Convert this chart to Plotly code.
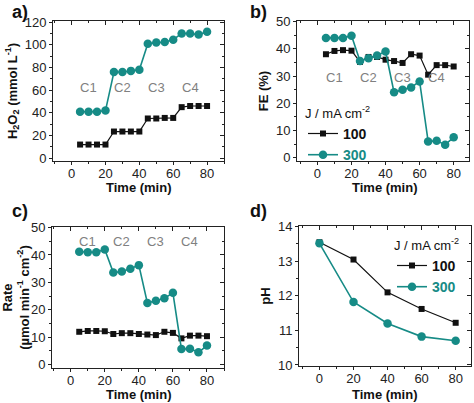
import plotly.graph_objects as go

TEAL = "#168b86"
BLACK = "#111111"
FONT = "Liberation Sans, Arial, sans-serif"

time_ab = [5, 10, 15, 20, 25, 30, 35, 40, 45, 50, 55, 60, 65, 70, 75, 80]
h2o2_100 = [12, 12, 12, 12, 23.5, 23.5, 23.5, 23.5, 35, 35, 35.5, 35.5, 45, 46, 46, 46]
h2o2_300 = [41, 41, 41, 42, 76, 76, 77, 78, 101, 102, 102.5, 104.5, 110, 110, 109, 111.5]
fe_100 = [38, 39.2, 39.5, 39.3, 35.2, 37, 37, 36, 35.5, 34.8, 38, 37.5, 30.5, 34, 34, 33.5]
fe_300 = [44, 44, 44, 44.8, 35.5, 36.5, 37.5, 39, 24, 25, 25.8, 28, 6, 6.2, 4.8, 7.5]
rate_100 = [12, 12.3, 12.3, 12.2, 11.2, 11.5, 11.5, 11.2, 11, 10.8, 12, 11.6, 9.6, 10.6, 10.6, 10.4]
rate_300 = [41.2, 41, 41, 42, 33.6, 34, 35, 36.3, 22.5, 23.3, 24.2, 26.2, 5.7, 5.8, 4.5, 7]
time_d = [0, 20, 40, 60, 80]
ph_100 = [13.55, 13.05, 12.1, 11.62, 11.22]
ph_300 = [13.52, 11.82, 11.2, 10.82, 10.7]
cycle_labels = ["C1", "C2", "C3", "C4"]
cycle_x = [10, 30, 50, 70]
legend_names = ["100", "300"]

fig = go.Figure()

def add_pair(xs, y1, y2, ax, legend=None):
    n = "" if ax == 1 else str(ax)
    show = legend is not None
    fig.add_trace(go.Scatter(
        x=xs, y=y1, xaxis="x" + n, yaxis="y" + n, mode="lines+markers",
        line=dict(color=BLACK, width=1.2),
        marker=dict(symbol="square", size=6, color=BLACK),
        name="<b>" + legend_names[0] + "</b>", showlegend=show, legend=legend or "legend"))
    fig.add_trace(go.Scatter(
        x=xs, y=y2, xaxis="x" + n, yaxis="y" + n, mode="lines+markers",
        line=dict(color=TEAL, width=1.6),
        marker=dict(symbol="circle", size=8.5, color=TEAL),
        name="<b><span style='color:" + TEAL + "'>" + legend_names[1] + "</span></b>",
        showlegend=show, legend=legend or "legend"))

add_pair(time_ab, h2o2_100, h2o2_300, 1)
add_pair(time_ab, fe_100, fe_300, 2, "legend")
add_pair(time_ab, rate_100, rate_300, 3)
add_pair(time_d, ph_100, ph_300, 4, "legend2")

W, H = 474, 403
boxes = {
    1: (53, 224, 21, 161),
    2: (297, 469, 21, 161),
    3: (52, 224, 227, 368),
    4: (299, 471, 226, 366),
}
xranges = {1: [-11, 90], 2: [-12, 89], 3: [-11, 90], 4: [-12, 89]}
yranges = {1: [-2.5, 121], 2: [-1.2, 50.2], 3: [-1.2, 50.2], 4: [9.97, 14.02]}
ydt = {1: 20, 2: 10, 3: 10, 4: 1}
ytitles = {
    1: "<b>H<sub>2</sub>O<sub>2</sub> (mmol L<sup>-1</sup>)</b>",
    2: "<b>FE (%)</b>",
    3: "<b>Rate<br>(µmol min<sup>-1</sup> cm<sup>-2</sup>)</b>",
    4: "<b>pH</b>",
}
xtitle_pos = {1: (139, 188), 2: (385, 188), 3: (139, 394), 4: (385, 394)}

tickfont = dict(family=FONT, size=13, color="#222")
titlefont = dict(family=FONT, size=13, color="#111")
layout = {}
annotations = []
for i in range(1, 5):
    x0, x1, y0, y1 = boxes[i]
    n = "" if i == 1 else str(i)
    xd = [x0 / W, x1 / W]
    yd = [1 - y1 / H, 1 - y0 / H]
    common = dict(showline=True, linecolor="#222", linewidth=1, ticks="outside",
                  tickcolor="#222", showgrid=False, zeroline=False,
                  tickfont=tickfont, automargin=False)
    layout["xaxis" + n] = dict(domain=xd, anchor="y" + n, range=xranges[i], dtick=20,
                               tick0=0, ticklen=3, ticklabelstandoff=-3,
                               minor=dict(dtick=10, ticks="outside", ticklen=2, tickcolor="#222"),
                               **common)
    layout["yaxis" + n] = dict(domain=yd, anchor="x" + n, range=yranges[i], dtick=ydt[i],
                               tick0=0, ticklen=3,
                               minor=dict(dtick=ydt[i] / 2, ticks="outside", ticklen=2, tickcolor="#222"),
                               title=dict(text=ytitles[i], font=titlefont, standoff=4),
                               **common)
    mx = str(4 + i)
    layout["xaxis" + mx] = dict(overlaying="x" + n, anchor="y" + n, side="top", range=xranges[i],
                                dtick=20, tick0=0, showline=True, linecolor="#222", linewidth=1,
                                ticks="inside", ticklen=4, tickcolor="#222", showticklabels=False,
                                showgrid=False, zeroline=False, automargin=False,
                                minor=dict(dtick=10, ticks="inside", ticklen=2, tickcolor="#222"))
    layout["yaxis" + mx] = dict(overlaying="y" + n, anchor="x" + n, side="right", range=yranges[i],
                                dtick=ydt[i], tick0=0, showline=True, linecolor="#222", linewidth=1,
                                ticks="inside", ticklen=4, tickcolor="#222", showticklabels=False,
                                showgrid=False, zeroline=False, automargin=False,
                                minor=dict(dtick=ydt[i] / 2, ticks="inside", ticklen=2, tickcolor="#222"))
    tx, ty = xtitle_pos[i]
    annotations.append(dict(x=tx / W, y=1 - ty / H, xref="paper", yref="paper",
                            text="<b>Time (min)</b>", showarrow=False, xanchor="center",
                            yanchor="middle", font=titlefont))

for i in range(1, 5):
    mx = str(4 + i)
    fig.add_trace(go.Scatter(x=[xranges[i][0]], y=[yranges[i][0]], xaxis="x" + mx, yaxis="y" + mx,
                             mode="markers", marker=dict(opacity=0), showlegend=False, hoverinfo="skip"))

cyc_y = {1: 62, 2: 29.5, 3: 45}
for i, yv in cyc_y.items():
    n = "" if i == 1 else str(i)
    for lab, xv in zip(cycle_labels, cycle_x):
        annotations.append(dict(x=xv, y=yv, xref="x" + n, yref="y" + n, text=lab, showarrow=False,
                                font=dict(family=FONT, size=13, color="#808080")))

panel = [("a)", 10, 12), ("b)", 248, 12), ("c)", 10, 211), ("d)", 248, 211)]
for t, px, py in panel:
    annotations.append(dict(x=px / W, y=1 - py / H, xref="paper", yref="paper", text="<b>" + t + "</b>",
                            showarrow=False, xanchor="left", yanchor="middle",
                            font=dict(family=FONT, size=18, color="#111")))

legend_title = dict(text="J / mA cm<sup>-2</sup>", font=dict(family=FONT, size=13, color="#111"))
leg_common = dict(bgcolor="rgba(0,0,0,0)", borderwidth=0, itemwidth=30, tracegroupgap=0,
                  font=dict(family=FONT, size=14, color="#111"), title=legend_title,
                  xanchor="left", yanchor="top")

fig.update_layout(
    width=W, height=H, margin=dict(l=0, r=0, t=0, b=0, autoexpand=False),
    paper_bgcolor="white", plot_bgcolor="white",
    font=dict(family=FONT, size=13, color="#111"),
    annotations=annotations,
    legend=dict(x=303 / W, y=1 - 101 / H, **leg_common),
    legend2=dict(x=392 / W, y=1 - 233 / H, **leg_common),
    **layout,
)

fig.write_html("out.html", config={"displayModeBar": False},
               post_script="document.body.style.margin='0';document.body.style.padding='0';")
